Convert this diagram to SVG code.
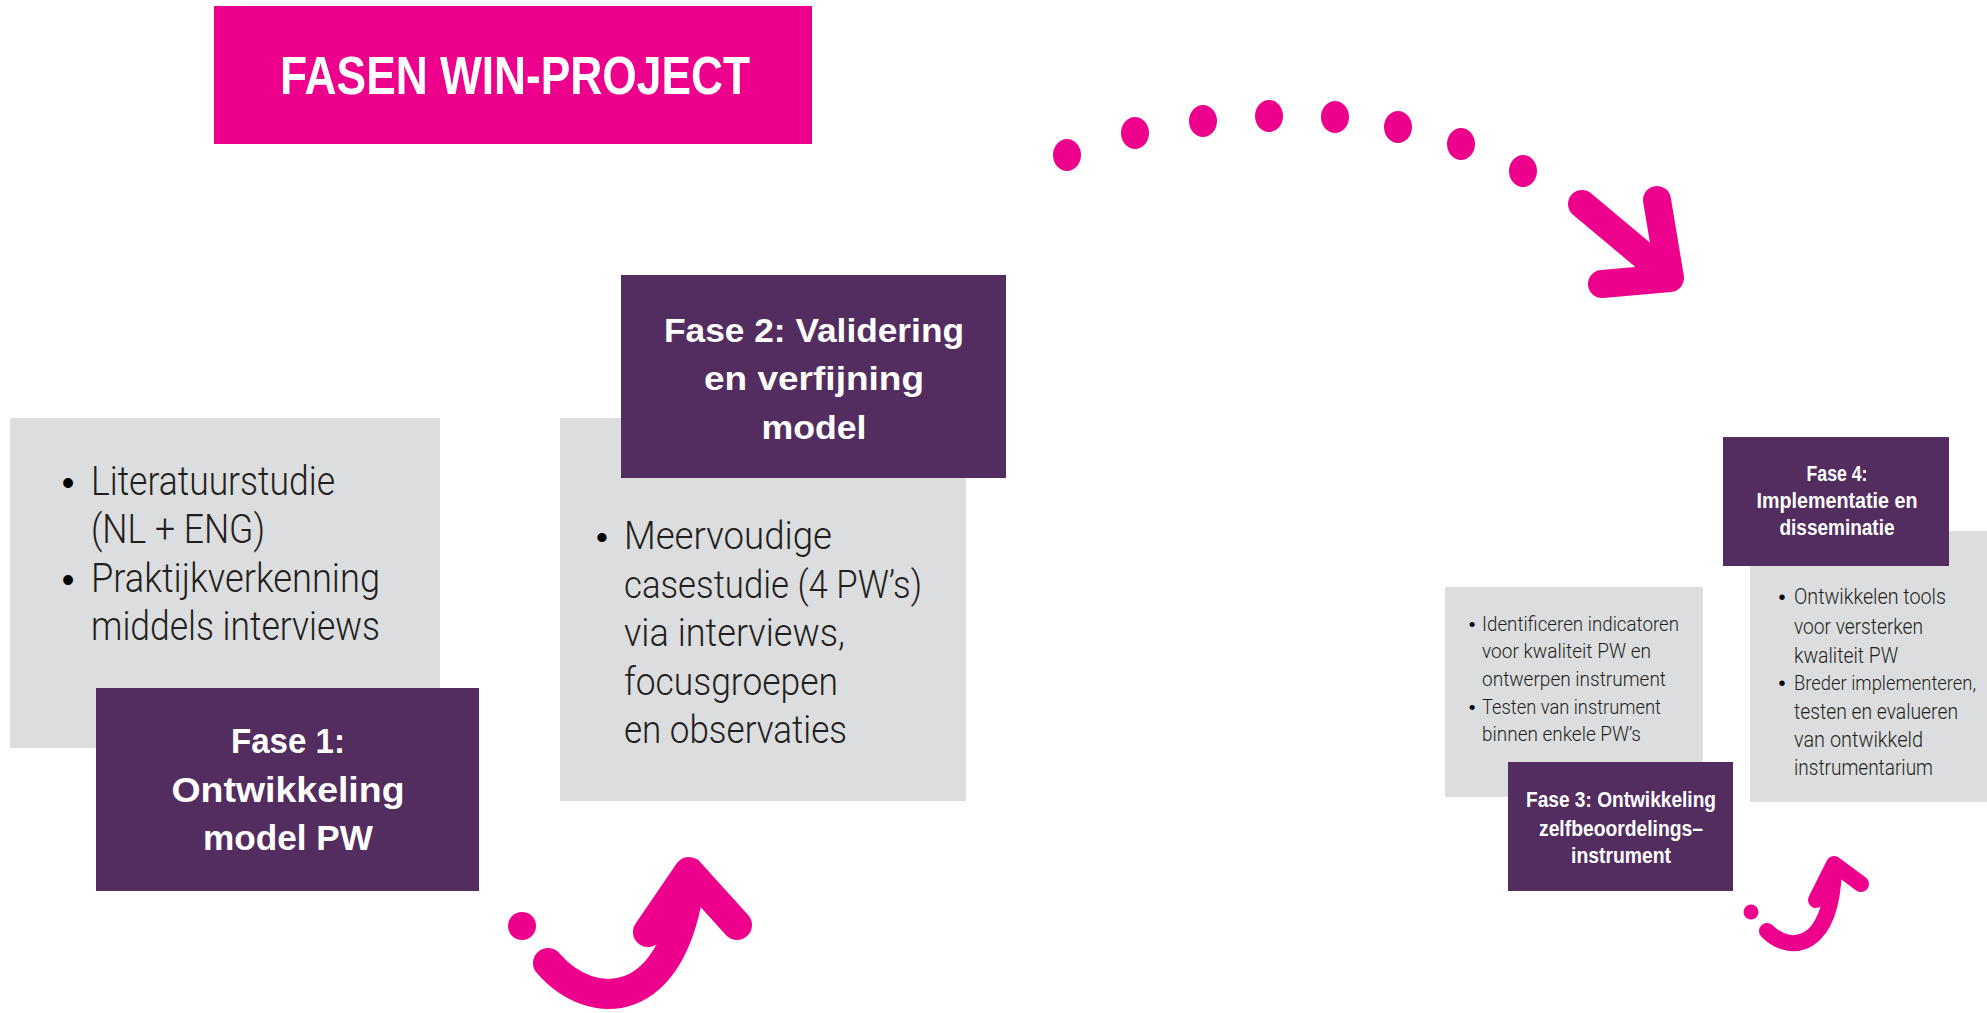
<svg xmlns="http://www.w3.org/2000/svg" width="1987" height="1013" viewBox="0 0 1987 1013">
<defs>
<style>
.grey{fill:#dcddde}
.purple{fill:#532d5f}
.pink{fill:#ec008c}
.head{font-family:"Liberation Sans","Open Sans",sans-serif;font-weight:bold;fill:#ffffff;text-anchor:middle}
.body{font-family:Roboto,"Liberation Sans",sans-serif;font-weight:300;fill:#231f20}
.bul{font-family:"Liberation Sans",sans-serif;fill:#000000;text-anchor:middle}
.arr{fill:none;stroke:#ec008c;stroke-linecap:round;stroke-linejoin:round}
</style>
</defs>
<rect width="1987" height="1013" fill="#ffffff"/>

<g id="title">
<rect class="pink" x="214" y="6" width="598" height="138"/>
<text class="head" x="515" y="94" font-size="53" textLength="470" lengthAdjust="spacingAndGlyphs">FASEN WIN-PROJECT</text>
</g>

<g id="fase1-content">
<rect class="grey" x="10" y="418" width="430" height="330"/>
<text class="bul" x="68" y="495" font-size="36">•</text>
<text class="body" x="91" y="495" font-size="40" textLength="244" lengthAdjust="spacingAndGlyphs">Literatuurstudie</text>
<text class="body" x="91" y="543" font-size="40" textLength="174" lengthAdjust="spacingAndGlyphs">(NL + ENG)</text>
<text class="bul" x="68" y="592" font-size="36">•</text>
<text class="body" x="91" y="592" font-size="40" textLength="289" lengthAdjust="spacingAndGlyphs">Praktijkverkenning</text>
<text class="body" x="91" y="640" font-size="40" textLength="289" lengthAdjust="spacingAndGlyphs">middels interviews</text>
</g>

<g id="fase1">
<rect class="purple" x="96" y="688" width="383" height="203"/>
<text class="head" x="288" y="753" font-size="35" textLength="114" lengthAdjust="spacingAndGlyphs">Fase 1:</text>
<text class="head" x="288" y="802" font-size="35" textLength="233" lengthAdjust="spacingAndGlyphs">Ontwikkeling</text>
<text class="head" x="288" y="850" font-size="35" textLength="170" lengthAdjust="spacingAndGlyphs">model PW</text>
</g>

<g id="fase2-content">
<rect class="grey" x="560" y="418" width="406" height="383"/>
<text class="bul" x="602" y="549" font-size="34">•</text>
<text class="body" x="624" y="549" font-size="38" textLength="208" lengthAdjust="spacingAndGlyphs">Meervoudige</text>
<text class="body" x="624" y="597.5" font-size="38" textLength="298" lengthAdjust="spacingAndGlyphs">casestudie (4 PW’s)</text>
<text class="body" x="624" y="646" font-size="38" textLength="221" lengthAdjust="spacingAndGlyphs">via interviews,</text>
<text class="body" x="624" y="694.5" font-size="38" textLength="214" lengthAdjust="spacingAndGlyphs">focusgroepen</text>
<text class="body" x="624" y="743" font-size="38" textLength="223" lengthAdjust="spacingAndGlyphs">en observaties</text>
</g>

<g id="fase2">
<rect class="purple" x="621" y="275" width="385" height="203"/>
<text class="head" x="814" y="342" font-size="34" textLength="300" lengthAdjust="spacingAndGlyphs">Fase 2: Validering</text>
<text class="head" x="814" y="390" font-size="34" textLength="220" lengthAdjust="spacingAndGlyphs">en verfijning</text>
<text class="head" x="814" y="439" font-size="34" textLength="105" lengthAdjust="spacingAndGlyphs">model</text>
</g>

<g id="fase3-content">
<rect class="grey" x="1445" y="587" width="258" height="210"/>
<text class="bul" x="1472" y="631" font-size="19">•</text>
<text class="body" x="1482" y="631" font-size="21" textLength="197" lengthAdjust="spacingAndGlyphs">Identificeren indicatoren</text>
<text class="body" x="1482" y="658" font-size="21" textLength="169" lengthAdjust="spacingAndGlyphs">voor kwaliteit PW en</text>
<text class="body" x="1482" y="686" font-size="21" textLength="184" lengthAdjust="spacingAndGlyphs">ontwerpen instrument</text>
<text class="bul" x="1472" y="714" font-size="19">•</text>
<text class="body" x="1482" y="714" font-size="21" textLength="179" lengthAdjust="spacingAndGlyphs">Testen van instrument</text>
<text class="body" x="1482" y="741" font-size="21" textLength="159" lengthAdjust="spacingAndGlyphs">binnen enkele PW’s</text>
</g>

<g id="fase3">
<rect class="purple" x="1508" y="762" width="225" height="129"/>
<text class="head" x="1621" y="807" font-size="22" textLength="190" lengthAdjust="spacingAndGlyphs">Fase 3: Ontwikkeling</text>
<text class="head" x="1621" y="836" font-size="22" textLength="164" lengthAdjust="spacingAndGlyphs">zelfbeoordelings–</text>
<text class="head" x="1621" y="863" font-size="22" textLength="100" lengthAdjust="spacingAndGlyphs">instrument</text>
</g>

<g id="fase4-content">
<rect class="grey" x="1750" y="531" width="237" height="271"/>
<text class="bul" x="1782" y="604" font-size="20">•</text>
<text class="body" x="1794" y="604" font-size="22" textLength="152" lengthAdjust="spacingAndGlyphs">Ontwikkelen tools</text>
<text class="body" x="1794" y="634" font-size="22" textLength="129" lengthAdjust="spacingAndGlyphs">voor versterken</text>
<text class="body" x="1794" y="663" font-size="22" textLength="104" lengthAdjust="spacingAndGlyphs">kwaliteit PW</text>
<text class="bul" x="1782" y="690" font-size="20">•</text>
<text class="body" x="1794" y="690" font-size="19.5" textLength="182" lengthAdjust="spacingAndGlyphs">Breder implementeren,</text>
<text class="body" x="1794" y="719" font-size="22" textLength="164" lengthAdjust="spacingAndGlyphs">testen en evalueren</text>
<text class="body" x="1794" y="747" font-size="22" textLength="129" lengthAdjust="spacingAndGlyphs">van ontwikkeld</text>
<text class="body" x="1794" y="775" font-size="22" textLength="139" lengthAdjust="spacingAndGlyphs">instrumentarium</text>
</g>

<g id="fase4">
<rect class="purple" x="1723" y="437" width="226" height="129"/>
<text class="head" x="1837" y="481" font-size="22" textLength="61" lengthAdjust="spacingAndGlyphs">Fase 4:</text>
<text class="head" x="1837" y="507.5" font-size="22" textLength="161" lengthAdjust="spacingAndGlyphs">Implementatie en</text>
<text class="head" x="1837" y="535" font-size="22" textLength="115" lengthAdjust="spacingAndGlyphs">disseminatie</text>
</g>

<g id="connectors">
<g id="arrow-1-2">
<circle class="pink" cx="522" cy="926" r="14"/>
<path class="arr" stroke-width="30" d="M548,963 C592,1014 674,1012 690,880"/>
<path class="arr" stroke-width="30" d="M648,932 L689,872 L737,925"/>
</g>
<g id="arrow-2-3">
<ellipse class="pink" cx="1067" cy="155" rx="14" ry="16"/>
<ellipse class="pink" cx="1135" cy="133" rx="14" ry="16"/>
<ellipse class="pink" cx="1203" cy="121" rx="14" ry="16"/>
<ellipse class="pink" cx="1269" cy="116" rx="14" ry="16"/>
<ellipse class="pink" cx="1335" cy="117" rx="14" ry="16"/>
<ellipse class="pink" cx="1398" cy="127" rx="14" ry="16"/>
<ellipse class="pink" cx="1461" cy="144" rx="14" ry="16"/>
<ellipse class="pink" cx="1523" cy="171" rx="14" ry="16"/>
<path class="arr" stroke-width="28" d="M1582,204 L1668,276"/>
<path class="arr" stroke-width="28" d="M1657,200 L1670,278 L1602,284"/>
</g>
<g id="arrow-3-4">
<circle class="pink" cx="1751" cy="912" r="7.5"/>
<path class="arr" stroke-width="16" d="M1767,931 C1790,954 1832,950 1834,868"/>
<path class="arr" stroke-width="16" d="M1816,900 L1834,864 L1861,884"/>
</g>
</g>
</svg>
